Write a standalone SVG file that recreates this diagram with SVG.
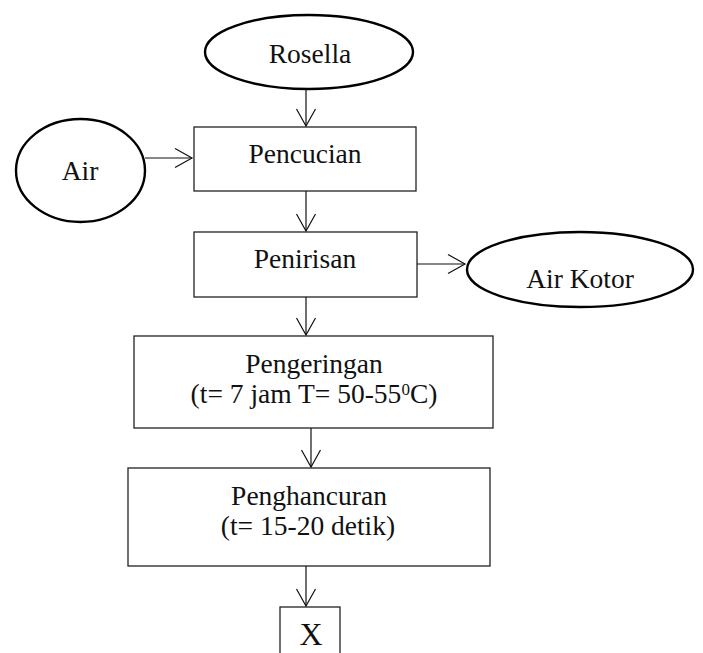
<svg xmlns="http://www.w3.org/2000/svg" width="703" height="653" viewBox="0 0 703 653">
<style>
  .box{fill:#fff;stroke:#222;stroke-width:1.3}
  .oval{fill:#fff;stroke:#000;stroke-width:2.4}
  .t{font-family:"Liberation Serif","DejaVu Serif",serif;font-size:27.5px;fill:#111;text-anchor:middle}
  .c{fill:none;stroke:#111;stroke-width:1.2}
</style>
<defs>
  <marker id="ah" markerUnits="userSpaceOnUse" markerWidth="20" markerHeight="22" viewBox="0 0 20 22" refX="18" refY="11" orient="auto">
    <path d="M1,1.5 L18,11 L1,20.5" fill="none" stroke="#111" stroke-width="1.2"/>
  </marker>
</defs>
<rect width="703" height="653" fill="#fff"/>
<g id="rosella"><ellipse class="oval" cx="309" cy="52" rx="104" ry="37"/><text class="t" x="310" y="63">Rosella</text></g>
<g id="air"><ellipse class="oval" cx="80.5" cy="170.5" rx="64.5" ry="51.5"/><text class="t" x="80" y="180">Air</text></g>
<g id="pencucian"><rect class="box" x="194" y="127" width="222" height="64"/><text class="t" x="305" y="163">Pencucian</text></g>
<g id="penirisan"><rect class="box" x="194" y="232" width="223" height="65"/><text class="t" x="305" y="268">Penirisan</text></g>
<g id="airkotor"><ellipse class="oval" cx="580" cy="269.5" rx="113" ry="37.5"/><text class="t" x="580" y="288">Air Kotor</text></g>
<g id="pengeringan"><rect class="box" x="134" y="336" width="359" height="92"/><text class="t" x="314" y="373">Pengeringan</text><text class="t" x="314" y="403">(t= 7 jam T= 50-55<tspan font-size="17" dy="-8">0</tspan><tspan dy="8">C)</tspan></text></g>
<g id="penghancuran"><rect class="box" x="128" y="468" width="362" height="98"/><text class="t" x="309" y="505">Penghancuran</text><text class="t" x="308" y="535">(t= 15-20 detik)</text></g>
<g id="x"><rect class="box" x="280" y="607" width="60" height="60"/><text class="t" x="311" y="645" style="font-size:32px">X</text></g>
<g id="connectors">
  <path class="c" d="M306,89 V126" marker-end="url(#ah)"/>
  <path class="c" d="M145,158 H192" marker-end="url(#ah)"/>
  <path class="c" d="M306,191 V231" marker-end="url(#ah)"/>
  <path class="c" d="M417,264 H465" marker-end="url(#ah)"/>
  <path class="c" d="M306,297 V335" marker-end="url(#ah)"/>
  <path class="c" d="M311,428 V467" marker-end="url(#ah)"/>
  <path class="c" d="M306,566 V606" marker-end="url(#ah)"/>
</g>
</svg>
